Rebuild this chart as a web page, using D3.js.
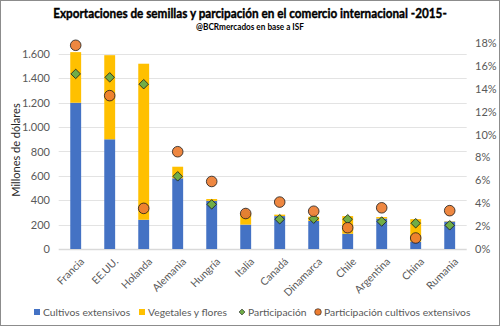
<!DOCTYPE html>
<html>
<head>
<meta charset="utf-8">
<script src="https://cdn.jsdelivr.net/npm/d3@7"></script>
<style>
  body { margin: 0; background: #fff; }
  text { font-family: Lato, "Open Sans", sans-serif; }
</style>
</head>
<body>
<div id="chart"></div>
<script>
var paises = ["Francia","EE.UU.","Holanda","Alemania","Hungría","Italia","Canadá","Dinamarca","Chile","Argentina","China","Rumania"];
var cultivos = [1200, 900, 240, 580, 395, 200, 270, 230, 125, 250, 60, 225];
var vegetales = [415, 690, 1280, 95, 15, 90, 12, 35, 145, 12, 185, 3];
var participacion = [15.3, 15.0, 14.4, 6.35, 3.9, 3.1, 2.6, 2.65, 2.6, 2.4, 2.25, 2.07];
var partCultivos = [17.8, 13.4, 3.55, 8.5, 5.9, 3.1, 4.1, 3.3, 1.86, 3.6, 0.96, 3.35];
var ticksIzq = [0, 200, 400, 600, 800, 1000, 1200, 1400, 1600];
var ticksDer = [0, 2, 4, 6, 8, 10, 12, 14, 16, 18];

var width = 500, height = 326;
var svg = d3.select("#chart").append("svg")
  .attr("width", width)
  .attr("height", height);

svg.append("rect")
  .attr("x", 0.5).attr("y", 0.5)
  .attr("width", width - 1).attr("height", height - 1)
  .attr("fill", "#fff")
  .attr("stroke", "#8c8c8c");

var x = d3.scaleBand()
  .domain(paises)
  .range([58.7, 466.7])
  .paddingInner(0.68)
  .paddingOuter(0.34);

var y = d3.scaleLinear().domain([0, 1690]).range([249, 43]);
var y2 = d3.scaleLinear().domain([0, 18]).range([249, 43]);

var fmt = d3.formatLocale({decimal: ",", thousands: ".", grouping: [3], currency: ["$", ""]}).format(",");

// gridlines
svg.append("g")
  .selectAll("line")
  .data(ticksIzq)
  .enter().append("line")
    .attr("x1", 58.7)
    .attr("x2", 466.7)
    .attr("y1", function(d) { return Math.round(y(d)) + 0.5; })
    .attr("y2", function(d) { return Math.round(y(d)) + 0.5; })
    .attr("stroke", function(d) { return d == 0 ? "#d9d9d9" : "#e3e3e3"; })
    .attr("stroke-width", function(d) { return d == 0 ? 1.5 : 1; });

// left axis
var axisL = svg.append("g")
  .attr("transform", "translate(50,0)")
  .call(d3.axisLeft(y).tickValues(ticksIzq).tickFormat(fmt).tickSize(0).tickPadding(0));
axisL.select(".domain").remove();
axisL.selectAll("text").attr("font-size", 11).attr("fill", "#595959").attr("font-family", "Lato");

// right axis
var axisR = svg.append("g")
  .attr("transform", "translate(475,0)")
  .call(d3.axisRight(y2).tickValues(ticksDer).tickFormat(function(d) { return d + "%"; }).tickSize(0).tickPadding(0));
axisR.select(".domain").remove();
axisR.selectAll("text").attr("font-size", 11).attr("fill", "#595959").attr("font-family", "Lato");

// stacked bars
var stackData = paises.map(function(p, i) {
  return {pais: p, cultivos: cultivos[i], vegetales: vegetales[i]};
});
var series = d3.stack().keys(["cultivos", "vegetales"])(stackData);
var colores = {cultivos: "#4472C4", vegetales: "#FFC000"};

svg.append("g")
  .selectAll("g")
  .data(series)
  .enter().append("g")
    .attr("fill", function(d) { return colores[d.key]; })
  .selectAll("rect")
  .data(function(d) { return d; })
  .enter().append("rect")
    .attr("x", function(d) { return x(d.data.pais); })
    .attr("width", x.bandwidth())
    .attr("y", function(d) { return y(d[1]); })
    .attr("height", function(d) { return y(d[0]) - y(d[1]); });

// participation diamonds
var diamond = d3.symbol().type(d3.symbolDiamond2).size(58);
svg.append("g")
  .selectAll("path")
  .data(participacion)
  .enter().append("path")
    .attr("d", diamond)
    .attr("transform", function(d, i) {
      return "translate(" + (x(paises[i]) + x.bandwidth() / 2) + "," + y2(d) + ")";
    })
    .attr("fill", "#70AD47")
    .attr("stroke", "#1a1a1a")
    .attr("stroke-width", 0.8);

// participation circles
svg.append("g")
  .selectAll("circle")
  .data(partCultivos)
  .enter().append("circle")
    .attr("cx", function(d, i) { return x(paises[i]) + x.bandwidth() / 2; })
    .attr("cy", function(d) { return y2(d); })
    .attr("r", 5.3)
    .attr("fill", "#ED7D31")
    .attr("fill-opacity", 0.92)
    .attr("stroke", "#1a1a1a")
    .attr("stroke-width", 0.8);

// x labels
svg.append("g")
  .selectAll("text")
  .data(paises)
  .enter().append("text")
    .attr("transform", function(d) {
      return "translate(" + (x(d) + x.bandwidth() / 2 + 4) + ",257) rotate(-45)";
    })
    .attr("text-anchor", "end")
    .attr("dy", "0.7em")
    .attr("font-size", 10.5)
    .attr("fill", "#595959")
    .text(function(d) { return d; });

// y axis title
svg.append("text")
  .attr("transform", "translate(20,150) rotate(-90)")
  .attr("text-anchor", "middle")
  .attr("font-size", 11)
  .attr("fill", "#262626")
  .text("Millones de dólares");

// titles, squeezed horizontally like a condensed font
function condensado(txt, cy, size, ancho, trazo) {
  var t = svg.append("text")
    .attr("text-anchor", "middle")
    .attr("font-size", size)
    .attr("font-weight", "bold")
    .attr("font-family", "'Liberation Sans', Arial, sans-serif")
    .attr("fill", "#000")
    .attr("stroke", "#000")
    .attr("stroke-width", trazo)
    .text(txt);
  var k = ancho / t.node().getComputedTextLength();
  t.attr("transform", "translate(250," + cy + ") scale(" + k + ",1)");
}
condensado("Exportaciones de semillas y parcipación en el comercio internacional -2015-", 18, 14, 394, 0.4);
condensado("@BCRmercados en base a ISF", 30, 9, 108, 0);

// legend
var leyenda = [
  {nombre: "Cultivos extensivos", tipo: "rect", color: "#4472C4", x: 37},
  {nombre: "Vegetales y flores", tipo: "rect", color: "#FFC000", x: 142},
  {nombre: "Participación", tipo: "diamond", color: "#70AD47", x: 242},
  {nombre: "Participación cultivos extensivos", tipo: "circle", color: "#ED7D31", x: 318}
];
var lg = svg.append("g").selectAll("g")
  .data(leyenda)
  .enter().append("g")
    .attr("transform", function(d) { return "translate(" + d.x + ",312)"; });

lg.filter(function(d) { return d.tipo == "rect"; })
  .append("rect")
    .attr("x", -3).attr("y", -3)
    .attr("width", 6).attr("height", 6)
    .attr("fill", function(d) { return d.color; });
lg.filter(function(d) { return d.tipo == "diamond"; })
  .append("path")
    .attr("d", d3.symbol().type(d3.symbolDiamond2).size(22))
    .attr("fill", function(d) { return d.color; })
    .attr("stroke", "#1a1a1a").attr("stroke-width", 0.6);
lg.filter(function(d) { return d.tipo == "circle"; })
  .append("circle")
    .attr("r", 3.3)
    .attr("fill", function(d) { return d.color; })
    .attr("stroke", "#1a1a1a").attr("stroke-width", 0.6);
lg.append("text")
  .attr("x", 6)
  .attr("dy", "0.35em")
  .attr("font-size", 10.3)
  .attr("fill", "#595959")
  .text(function(d) { return d.nombre; });
</script>
</body>
</html>
